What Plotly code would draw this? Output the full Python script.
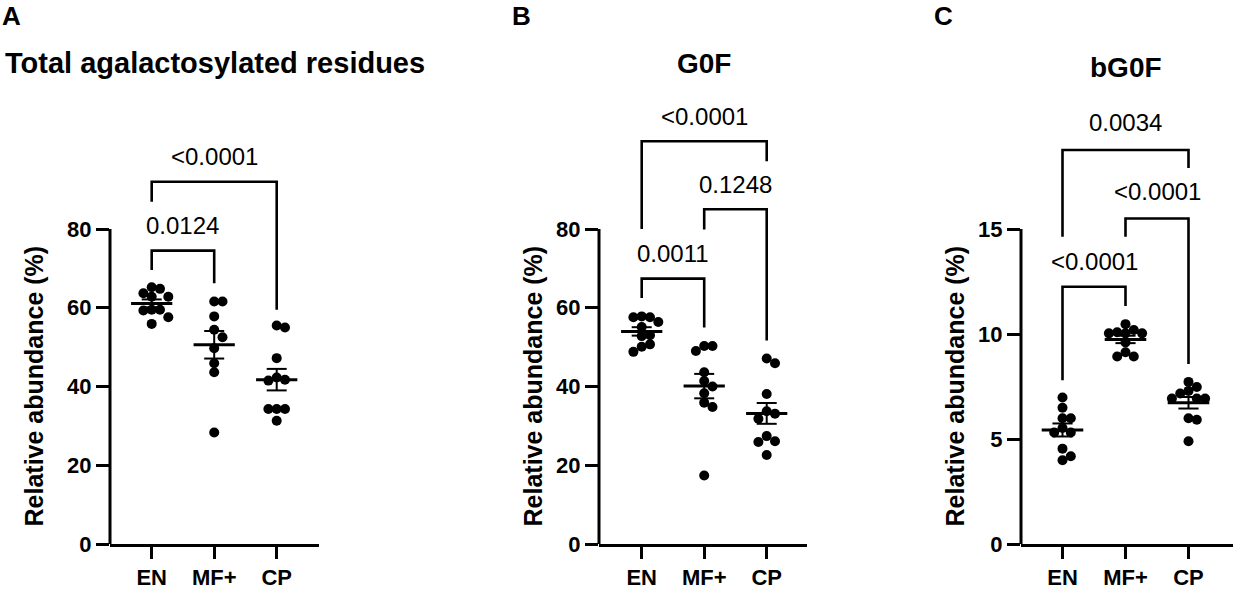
import numpy as np
import plotly.graph_objects as go

# --- data ---
groups = ["EN", "MF+", "CP"]

# A: total agalactosylated residues, relative abundance (%)
total_en = [65.2, 64.8, 63.7, 62.8, 62.8, 59.5, 59.5, 59.3, 57.6, 55.9]
total_mf = [61.6, 61.6, 57.8, 54.4, 52.5, 49.7, 45.9, 43.6, 28.3]
total_cp = [55.5, 55.0, 47.2, 42.3, 41.7, 41.5, 34.3, 34.3, 34.3, 31.3]

# B: G0F
g0f_en = [57.8, 57.6, 57.6, 56.4, 55.1, 53.0, 52.8, 50.7, 50.1, 48.8]
g0f_mf = [50.3, 50.3, 49.0, 43.6, 41.4, 40.0, 38.3, 35.9, 34.8, 17.4]
g0f_cp = [47.1, 45.9, 38.1, 33.7, 33.1, 31.8, 27.4, 26.1, 25.9, 22.6]

# C: bG0F
bg0f_en = [6.98, 6.49, 5.99, 5.99, 5.52, 5.31, 5.31, 4.54, 4.18, 3.99]
bg0f_mf = [10.47, 10.19, 10.08, 10.03, 10.03, 10.03, 9.60, 9.13, 8.93, 8.93]
bg0f_cp = [7.72, 7.48, 7.29, 7.17, 6.93, 6.93, 6.93, 5.99, 5.92, 4.89]

# p values of the comparisons (EN-MF+, MF+-CP, EN-CP)
total_p = ["0.0124", None, "<0.0001"]
g0f_p = ["0.0011", "0.1248", "<0.0001"]
bg0f_p = ["<0.0001", "<0.0001", "0.0034"]

titles = ["Total agalactosylated residues", "G0F", "bG0F"]
letters = ["A", "B", "C"]
y_ticks = [[0, 20, 40, 60, 80], [0, 20, 40, 60, 80], [0, 5, 10, 15]]

W, H = 1234, 589
FONT = "Arial, Liberation Sans, Helvetica, sans-serif"
Y0_PX, YTOP_PX, DOM_TOP_PX = 544, 229, 92


def px_x(v):
    return v / W


def px_y(v):
    return 1 - v / H


# layout per panel (px): y-axis, first category, px per category, right end
geom = [
    dict(axis=110, cat0=151.7, step=62.5, right=319),
    dict(axis=599, cat0=641.7, step=62.5, right=807),
    dict(axis=1021, cat0=1062.5, step=63.0, right=1233),
]
# brackets: (i, j, bar level, leg-i end, leg-j end, label level)
brackets = [
    [(0, 1, 74.5, 69.6, 66.2, 81.0), None, (0, 2, 92.0, 86.9, 59.5, 98.4)],
    [(0, 1, 67.4, 62.5, 55.0, 73.9), (1, 2, 85.0, 79.9, 51.7, 91.3),
     (0, 2, 102.3, 80.0, 97.2, 108.5)],
    [(0, 1, 12.25, 7.8, 11.33, 13.45), (1, 2, 15.5, 14.63, 8.57, 16.8),
     (0, 2, 18.76, 14.63, 17.9, 20.05)],
]
panel_data = [[total_en, total_mf, total_cp], [g0f_en, g0f_mf, g0f_cp],
              [bg0f_en, bg0f_mf, bg0f_cp]]
panel_p = [total_p, g0f_p, bg0f_p]


def swarm(vals, ppu_y, ppu_x, step=8.3, gap=8.3):
    # simple beeswarm so overlapping dots spread sideways
    vals = np.asarray(vals, dtype=float)
    offs = np.zeros(len(vals))
    placed = []
    cands = [0]
    for k in range(1, 8):
        cands += [k, -k]
    for i in np.argsort(-vals, kind="stable"):
        yp = vals[i] * ppu_y
        for c in cands:
            xp = c * step
            if all((xp - a) ** 2 + (yp - b) ** 2 >= gap ** 2 for a, b in placed):
                break
        placed.append((xp, yp))
        offs[i] = xp / ppu_x
    return offs


fig = go.Figure()
shapes, annots = [], []

for p in range(3):
    g = geom[p]
    top_tick = y_ticks[p][-1]
    ppu_y = (Y0_PX - YTOP_PX) / top_tick
    y_max = (Y0_PX - DOM_TOP_PX) / ppu_y
    x_min = (g["axis"] - g["cat0"]) / g["step"]
    x_max = (g["right"] - g["cat0"]) / g["step"]
    xn = "x" if p == 0 else f"x{p+1}"
    yn = "y" if p == 0 else f"y{p+1}"
    xk = "xaxis" if p == 0 else f"xaxis{p+1}"
    yk = "yaxis" if p == 0 else f"yaxis{p+1}"

    mx, my = [], []
    lx, ly = [], []
    wx, wy = [], []
    for gi, vals in enumerate(panel_data[p]):
        offs = swarm(vals, ppu_y, g["step"])
        mx += list(gi + offs)
        my += list(vals)
        m = np.mean(vals)
        s = np.std(vals, ddof=1) / np.sqrt(len(vals))
        lx += [gi - 0.33, gi + 0.33, None]
        ly += [m, m, None]
        wx += [gi, gi, None, gi - 0.16, gi + 0.16, None, gi - 0.16, gi + 0.16, None]
        wy += [m - s, m + s, None, m + s, m + s, None, m - s, m - s, None]

    fig.add_trace(go.Scatter(x=mx, y=my, mode="markers", xaxis=xn, yaxis=yn,
                             marker=dict(size=10, color="black"), cliponaxis=False,
                             showlegend=False))
    fig.add_trace(go.Scatter(x=wx, y=wy, mode="lines", xaxis=xn, yaxis=yn,
                             line=dict(color="black", width=2), showlegend=False))
    fig.add_trace(go.Scatter(x=lx, y=ly, mode="lines", xaxis=xn, yaxis=yn,
                             line=dict(color="black", width=3), showlegend=False))

    fig.update_layout({
        xk: dict(domain=[px_x(g["axis"]), px_x(g["right"])], range=[x_min, x_max],
                 anchor=yn, showline=True, linewidth=3, linecolor="black",
                 showgrid=False, zeroline=False, ticks="outside", ticklen=12,
                 tickwidth=3, tickcolor="black", tickvals=[0, 1, 2],
                 ticktext=groups, automargin=False,
                 tickfont=dict(family=FONT, size=22, color="black", weight="bold")),
        yk: dict(domain=[1 - Y0_PX / H, 1 - DOM_TOP_PX / H], range=[0, y_max],
                 anchor=xn, showline=False, showgrid=False, zeroline=False,
                 ticks="outside", ticklen=13, tickwidth=3, tickcolor="black",
                 tickvals=y_ticks[p], automargin=False,
                 tickfont=dict(family=FONT, size=22, color="black", weight="bold")),
    })
    # y axis line only up to the top tick
    shapes.append(dict(type="line", xref=f"{xn} domain", yref=yn, x0=0, x1=0,
                       y0=0, y1=top_tick, line=dict(color="black", width=3)))

    for b, lab in zip(brackets[p], panel_p[p]):
        if b is None:
            continue
        i, j, bar, li, lj, ty = b
        shapes.append(dict(type="path", xref=xn, yref=yn,
                           path=f"M {i} {li} L {i} {bar} L {j} {bar} L {j} {lj}",
                           line=dict(color="black", width=2.6)))
        annots.append(dict(x=(i + j) / 2, y=ty, xref=xn, yref=yn, text=lab,
                           showarrow=False, yanchor="middle",
                           font=dict(family=FONT, size=24, color="black")))

    # axis title
    annots.append(dict(x=px_x(g["axis"] - (77 if p == 0 else 67)),
                       y=px_y((544 + 229) / 2), xref="paper", yref="paper",
                       text="Relative abundance (%)", textangle=-90, showarrow=False,
                       xanchor="center", yanchor="middle",
                       font=dict(family=FONT, size=25, color="black", weight="bold")))

# titles and panel letters
annots.append(dict(x=px_x(3), y=px_y(63), xref="paper", yref="paper", text=titles[0],
                   showarrow=False, xanchor="left", yanchor="middle",
                   font=dict(family=FONT, size=29, color="black", weight="bold")))
annots.append(dict(x=1, y=px_y(63), xref="x2", yref="paper", text=titles[1],
                   showarrow=False, xanchor="center", yanchor="middle",
                   font=dict(family=FONT, size=28, color="black", weight="bold")))
annots.append(dict(x=1, y=px_y(68), xref="x3", yref="paper", text=titles[2],
                   showarrow=False, xanchor="center", yanchor="middle",
                   font=dict(family=FONT, size=28, color="black", weight="bold")))
for lt, lx_px in zip(letters, [0, 510, 932]):
    annots.append(dict(x=px_x(lx_px), y=px_y(16), xref="paper", yref="paper",
                       text=lt, showarrow=False, xanchor="left", yanchor="middle",
                       font=dict(family=FONT, size=26, color="black", weight="bold")))

fig.update_layout(width=W, height=H, margin=dict(l=0, r=0, t=0, b=0),
                  plot_bgcolor="white", paper_bgcolor="white",
                  shapes=shapes, annotations=annots, font=dict(family=FONT))

# drop the default page margin so the figure fills the window exactly
fig.write_html("out.html", config={"displayModeBar": False},
               post_script="document.body.style.margin='0px';")
